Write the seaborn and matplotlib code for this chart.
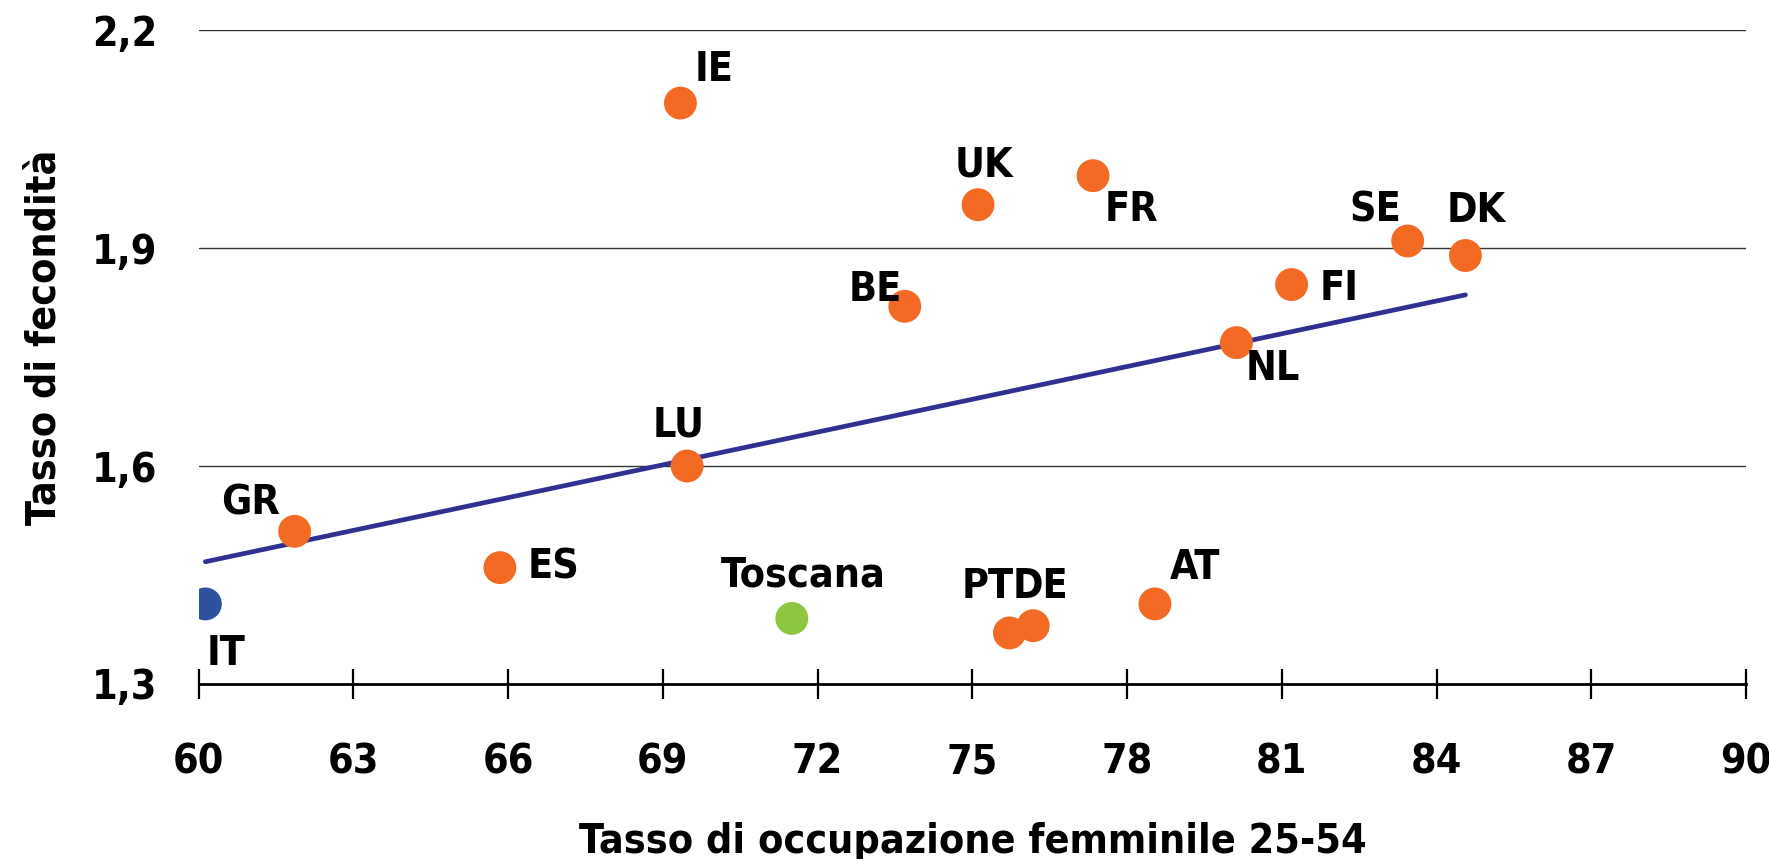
import matplotlib
matplotlib.use("Agg")
import matplotlib.pyplot as plt
from matplotlib import font_manager
import seaborn as sns
import pandas as pd
import os

# ---- data ----
countries = ["IE", "UK", "FR", "SE", "DK", "FI", "BE", "NL", "LU", "GR", "ES", "IT", "Toscana", "PT", "DE", "AT"]
employment = [69.34, 75.11, 77.34, 83.44, 84.56, 81.19, 73.69, 80.12, 69.47, 61.86, 65.84, 60.13, 71.50, 75.72, 76.18, 78.54]
fertility = [2.10, 1.96, 2.00, 1.91, 1.89, 1.85, 1.82, 1.77, 1.60, 1.51, 1.46, 1.41, 1.39, 1.37, 1.38, 1.41]
groups = ["EU", "EU", "EU", "EU", "EU", "EU", "EU", "EU", "EU", "EU", "EU", "IT", "Toscana", "EU", "EU", "EU"]
x_ticks = [60, 63, 66, 69, 72, 75, 78, 81, 84, 87, 90]
y_ticks = [1.3, 1.6, 1.9, 2.2]
x_label = "Tasso di occupazione femminile 25-54"
y_label = "Tasso di fecondità"

# label offsets (points) - layout only
label_offsets = {
    "IE": (24, 24), "UK": (4, 28), "FR": (28, -25), "SE": (-23, 22), "DK": (8, 32),
    "FI": (34, -3), "BE": (-21, 12), "NL": (26, -19), "LU": (-6, 29), "GR": (-32, 20),
    "ES": (39, 0), "IT": (15, -36), "Toscana": (8, 31), "PT": (-16, 33), "DE": (5, 28),
    "AT": (29, 26),
}

df = pd.DataFrame({"country": countries, "x": employment, "y": fertility, "group": groups})

sns.set_theme(style="white")

# look for a condensed bold sans font file
font_file = None
all_files = font_manager.findSystemFonts() + [f.fname for f in font_manager.fontManager.ttflist]
prefs = ["LiberationSansNarrow-Bold", "DejaVuSansCondensed-Bold", "RobotoCondensed-Bold",
         "OpenSans_Condensed-Bold", "OpenSansCondensed-Bold", "NotoSans-CondensedBold"]
for p in prefs:
    hits = [f for f in all_files if os.path.basename(f).startswith(p)]
    if hits:
        font_file = hits[0]
        break

if font_file:
    font_manager.fontManager.addfont(font_file)
    fam = font_manager.FontProperties(fname=font_file).get_name()
    plt.rcParams["font.family"] = [fam, "DejaVu Sans"]
    FS = 29.5
else:
    plt.rcParams["font.family"] = ["Liberation Sans", "DejaVu Sans"]
    FS = 27
plt.rcParams["font.weight"] = "bold"
if font_file and "Condensed" in font_file:
    plt.rcParams["font.stretch"] = "condensed"

fig = plt.figure(figsize=(17.69, 8.59), dpi=100)
ax = fig.add_axes([0.1123, 0.204, 0.8747, 0.7605])

palette = {"EU": "#F36A24", "IT": "#2F52A0", "Toscana": "#8DC63F"}

for yv in y_ticks[1:]:
    ax.axhline(yv, color="#333333", lw=1.0, zorder=0)

sns.regplot(data=df, x="x", y="y", scatter=False, ci=None, truncate=True,
            line_kws=dict(color="#2E3192", lw=3.4, zorder=2), ax=ax)
sns.scatterplot(data=df, x="x", y="y", hue="group", palette=palette, s=560,
                edgecolor="none", legend=False, zorder=3, ax=ax)

for c, xv, yv in zip(countries, employment, fertility):
    dx, dy = label_offsets[c]
    ax.annotate(c, (xv, yv), xytext=(dx, dy), textcoords="offset points",
                ha="center", va="center", fontsize=FS, fontweight="bold", color="black")

ax.set_xlim(60, 90)
ax.set_ylim(1.3, 2.2)
ax.set_xticks(x_ticks)
ax.set_yticks(y_ticks)
ax.set_xticklabels([str(v) for v in x_ticks], fontsize=FS, fontweight="bold", color="black")
ax.set_yticklabels([f"{v:.1f}".replace(".", ",") for v in y_ticks], fontsize=FS, fontweight="bold", color="black")

for s in ["top", "right", "left"]:
    ax.spines[s].set_visible(False)
ax.spines["bottom"].set_color("black")
ax.spines["bottom"].set_linewidth(2.0)
ax.tick_params(axis="x", direction="inout", length=22, width=1.6, color="black", pad=31, bottom=True)
ax.tick_params(axis="y", length=0, pad=30)

ax.set_xlabel(x_label, fontsize=FS, fontweight="bold", labelpad=29, color="black")
ax.set_ylabel(y_label, fontsize=FS, fontweight="bold", color="black")
ax.yaxis.set_label_coords(-0.087, 0.53)

fig.savefig("out.png", dpi=100)
